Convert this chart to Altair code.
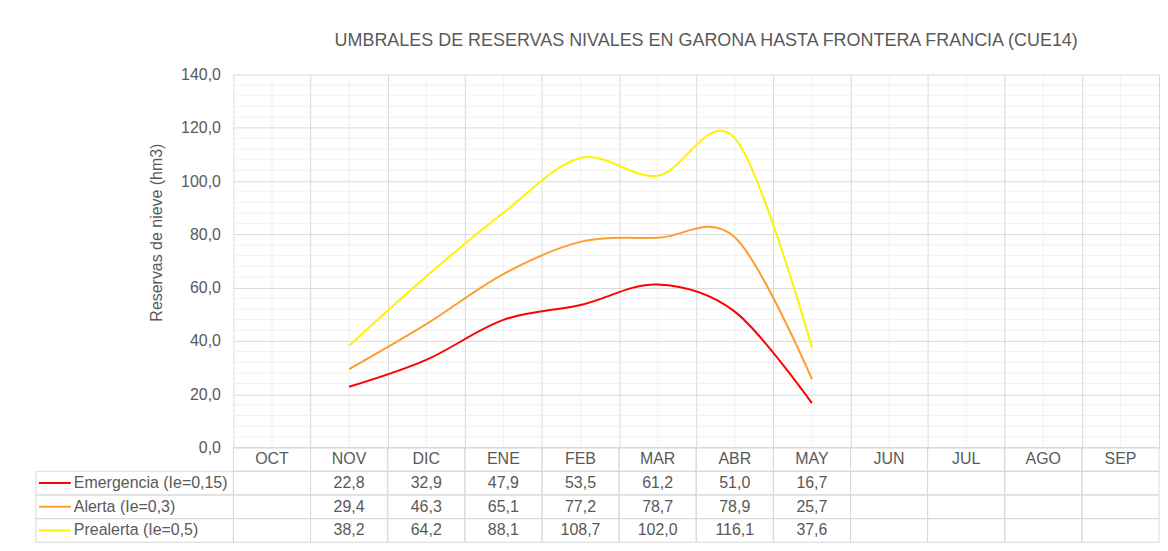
import altair as alt
import pandas as pd

months = ["OCT", "NOV", "DIC", "ENE", "FEB", "MAR", "ABR", "MAY", "JUN", "JUL", "AGO", "SEP"]
series_names = ["Emergencia (Ie=0,15)", "Alerta (Ie=0,3)", "Prealerta (Ie=0,5)"]
emergencia = [None, 22.8, 32.9, 47.9, 53.5, 61.2, 51.0, 16.7, None, None, None, None]
alerta = [None, 29.4, 46.3, 65.1, 77.2, 78.7, 78.9, 25.7, None, None, None, None]
prealerta = [None, 38.2, 64.2, 88.1, 108.7, 102.0, 116.1, 37.6, None, None, None, None]
colors = ["#FF0000", "#FF9D2E", "#FFF200"]
y_ticks = [0, 20, 40, 60, 80, 100, 120, 140]
y_minor = [v for v in range(0, 141, 4) if v % 20 != 0]

title_text = "UMBRALES DE RESERVAS NIVALES EN GARONA HASTA FRONTERA FRANCIA (CUE14)"
y_title = "Reservas de nieve (hm3)"

FONT = "Liberation Sans"
TXT = "#595959"
GRID = "#d9d9d9"
MINOR = "#f0f0f0"

PLOT_W = 928
PLOT_H = 374
LEG_W = 198
TABLE_H = 95

rows = []
for name, vals in zip(series_names, [emergencia, alerta, prealerta]):
    for i, (m, v) in enumerate(zip(months, vals)):
        rows.append({"series": name, "month": m, "pos": i + 0.5, "value": v,
                     "label": "" if v is None else f"{v:.1f}".replace(".", ",")})
df = pd.DataFrame(rows)
line_df = df.dropna(subset=["value"])

color_scale = alt.Scale(domain=series_names, range=colors)
x_lin = alt.Scale(domain=[0, 12], nice=False, zero=False)
y_lin = alt.Scale(domain=[0, 140], nice=False)

x_axis = alt.Axis(values=list(range(0, 13)), labels=False, ticks=False, domain=False,
                  grid=True, gridColor=GRID, title=None)
y_axis = alt.Axis(values=y_ticks, labelExpr="replace(format(datum.value, '.1f'), '.', ',')",
                  ticks=False, domain=False, grid=True, gridColor=GRID,
                  labelPadding=13, labelFontSize=16, labelColor=TXT,
                  title=y_title, titleFontSize=16, titleFontWeight="normal",
                  titleColor=TXT, titleX=-69, titleY=158)

minor_h = alt.Chart(pd.DataFrame({"value": y_minor})).mark_rule(color=MINOR, strokeWidth=1).encode(
    y=alt.Y("value:Q", scale=y_lin, axis=y_axis))
minor_v = alt.Chart(pd.DataFrame({"pos": [i + 0.5 for i in range(len(months))]})).mark_rule(
    color=MINOR, strokeWidth=1).encode(x=alt.X("pos:Q", scale=x_lin, axis=x_axis))

lines = alt.Chart(line_df).mark_line(interpolate="cardinal", strokeWidth=2).encode(
    x=alt.X("pos:Q", scale=x_lin, axis=x_axis),
    y=alt.Y("value:Q", scale=y_lin, axis=y_axis),
    color=alt.Color("series:N", scale=color_scale, legend=None),
    detail="series:N",
)

top = alt.layer(minor_h, minor_v, lines).properties(
    width=PLOT_W, height=PLOT_H,
    title=alt.TitleParams(title_text, fontSize=18, fontWeight="normal", color=TXT,
                          font=FONT, dx=10, offset=17),
)

blank = alt.Chart(pd.DataFrame({"a": [0]})).mark_point(opacity=0).encode(
    x=alt.X("a:Q", axis=None), y=alt.Y("a:Q", axis=None)).properties(width=LEG_W, height=PLOT_H)

row_keys = ["hdr"] + series_names
y_band = alt.Scale(domain=row_keys, paddingInner=0, paddingOuter=0)
x_band = alt.Scale(domain=months, paddingInner=0, paddingOuter=0)

hdr_df = pd.DataFrame({"row": "hdr", "month": months, "label": months})
tbl_df = pd.concat([hdr_df, df.rename(columns={"series": "row"})[["row", "month", "label"]]],
                   ignore_index=True)

cells = alt.Chart(tbl_df).mark_rect(fillOpacity=0, stroke=GRID, strokeWidth=1).encode(
    x=alt.X("month:N", scale=x_band, axis=None),
    y=alt.Y("row:N", scale=y_band, axis=None),
)
cell_text = alt.Chart(tbl_df).mark_text(fontSize=16, color=TXT, font=FONT).encode(
    x=alt.X("month:N", scale=x_band, axis=None),
    y=alt.Y("row:N", scale=y_band, axis=None),
    text="label:N",
)
table = alt.layer(cells, cell_text).properties(width=PLOT_W, height=TABLE_H)

leg_df = pd.DataFrame({"row": series_names})
leg_cells = alt.Chart(leg_df).mark_rect(fillOpacity=0, stroke=GRID, strokeWidth=1).encode(
    y=alt.Y("row:N", scale=y_band, axis=None))
leg_swatch = alt.Chart(leg_df).mark_rule(strokeWidth=2).encode(
    x=alt.value(3), x2=alt.value(35),
    y=alt.Y("row:N", scale=y_band, axis=None),
    color=alt.Color("row:N", scale=color_scale, legend=None))
leg_text = alt.Chart(leg_df).mark_text(align="left", fontSize=16, color=TXT, font=FONT).encode(
    x=alt.value(38),
    y=alt.Y("row:N", scale=y_band, axis=None),
    text="row:N")
legend = alt.layer(leg_cells, leg_swatch, leg_text).properties(width=LEG_W, height=TABLE_H)

chart = alt.concat(blank, top, legend, table, columns=2, spacing=0, bounds="flush").resolve_scale(
    color="shared").properties(
    padding={"left": 27, "top": 23, "right": 0, "bottom": 0}
).configure(font=FONT).configure_view(stroke=None)

chart.save("out.html", embed_options={"renderer": "svg", "actions": False})
